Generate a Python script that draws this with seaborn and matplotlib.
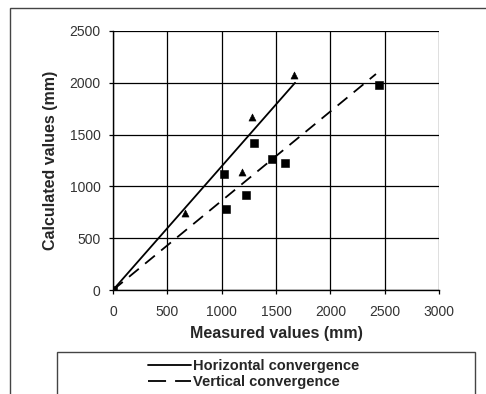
import matplotlib
matplotlib.use("Agg")
import matplotlib.pyplot as plt
from matplotlib.lines import Line2D
from matplotlib.patches import Rectangle
import seaborn as sns
import pandas as pd

# valeurs
horiz_meas = [0, 663, 1187, 1279, 1666]
horiz_calc = [0, 743, 1139, 1670, 2075]
vert_meas = [0, 1021, 1040, 1224, 1298, 1463, 1583, 2448]
vert_calc = [0, 1120, 782, 917, 1419, 1264, 1226, 1979]

# droites de regression (extremites)
horiz_fit_x = [0, 1675]
horiz_fit_y = [0, 2000]
vert_fit_x = [0, 2420]
vert_fit_y = [0, 2085]

sns.set_style("white")
plt.rcParams['font.family'] = ['Liberation Sans', 'DejaVu Sans']

fig = plt.figure(figsize=(4.86, 3.94), dpi=100)
W, H = 486, 394
ax = fig.add_axes([113 / W, 1 - 290 / H, (439 - 113) / W, (290 - 31) / H])

df_h = pd.DataFrame({"x": horiz_meas, "y": horiz_calc})
df_v = pd.DataFrame({"x": vert_meas, "y": vert_calc})

dash = (0, (7, 4.5))
sns.lineplot(x=horiz_fit_x, y=horiz_fit_y, color="black", linewidth=1.3, ax=ax)
sns.lineplot(x=vert_fit_x, y=vert_fit_y, color="black", linewidth=1.3, ax=ax,
             dashes=False, linestyle=dash)
sns.scatterplot(data=df_v, x="x", y="y", marker="s", color="black", s=26,
                edgecolor="black", ax=ax, zorder=5)
sns.scatterplot(data=df_h, x="x", y="y", marker="^", color="black", s=26,
                edgecolor="black", ax=ax, zorder=5)

ax.set_xlim(0, 3000)
ax.set_ylim(0, 2500)
ax.set_xticks(range(0, 3001, 500))
ax.set_yticks(range(0, 2501, 500))
ax.grid(True, color="black", linewidth=0.9)
ax.set_axisbelow(True)
for s in ["top", "right"]:
    ax.spines[s].set_visible(False)
for s in ["left", "bottom"]:
    ax.spines[s].set_color("black")
    ax.spines[s].set_linewidth(1.0)
ax.tick_params(axis="both", direction="out", length=3, width=0.9, color="black",
               labelsize=10, labelcolor="#333333", bottom=True, left=True)
ax.tick_params(axis="x", pad=8)
ax.tick_params(axis="y", pad=6)
ax.set_xlabel("Measured values (mm)", fontsize=11.5, fontweight="bold", labelpad=5)
ax.set_ylabel("Calculated values (mm)", fontsize=11.5, fontweight="bold", labelpad=8)

# cadre exterieur
fig.patches.append(Rectangle((10 / W, -0.1), 1.2, 1 - 8 / H + 0.1, transform=fig.transFigure,
                             fill=False, edgecolor="#444444", linewidth=1.0))
# cadre de la legende
fig.patches.append(Rectangle((57 / W, -0.1), (475 - 57) / W, 1 - 352 / H + 0.1,
                             transform=fig.transFigure, fill=False,
                             edgecolor="#444444", linewidth=1.0))

handles = [Line2D([0], [0], color="black", linewidth=1.3),
           Line2D([0], [0], color="black", linewidth=1.3, linestyle=(0, (10, 5)))]
labels = ["Horizontal convergence", "Vertical convergence"]
fig.legend(handles, labels, loc="upper left", bbox_to_anchor=(141 / W, 1 - 352 / H),
           frameon=False, prop={"size": 10.5, "weight": "bold"}, handlelength=2.9,
           handletextpad=0.15, labelspacing=0.15, borderpad=0)

fig.savefig("out.png", dpi=100)
